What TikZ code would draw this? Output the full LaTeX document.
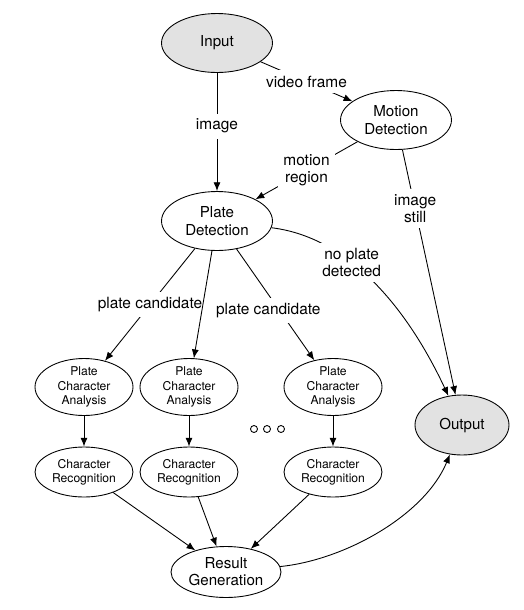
\documentclass[tikz,border=0pt]{standalone}
\usepackage{fontspec}
\setmainfont{TeX Gyre Heros}
\usetikzlibrary{arrows.meta,shapes.geometric}
\definecolor{iogrey}{HTML}{E2E2E2}

\begin{document}
\begin{tikzpicture}[x=0.02cm,y=-0.02cm,
    stage/.style={draw,ellipse,inner sep=0pt,align=center,line width=0.5pt,
        font=\fontsize{8.6}{9.8}\selectfont},
    bigstage/.style={stage,minimum width=2.22cm,minimum height=1.18cm},
    smallstage/.style={stage,minimum width=1.96cm,minimum height=1cm,
        font=\fontsize{6.9}{8.2}\selectfont},
    io/.style={fill=iogrey},
    flow/.style={line width=0.5pt,-{Latex[length=5pt,width=4pt]}},
    lbl/.style={fill=white,inner sep=3pt,align=center,
        font=\fontsize{8.8}{9.8}\selectfont}]

            \useasboundingbox (0,0) rectangle (524,610);

            \node[bigstage,io] (input) at (217,43) {Input};
            \node[bigstage] (motion) at (396,120) {Motion\\Detection};
            \node[bigstage] (plate) at (217,221) {Plate\\Detection};

            \node[smallstage] (pca1) at (84,387) {Plate\\Character\\Analysis};
            \node[smallstage] (pca2) at (189,387) {Plate\\Character\\Analysis};
            \node[smallstage] (pca3) at (333,387) {Plate\\Character\\Analysis};

            \node[smallstage] (cr1) at (84,472) {Character\\Recognition};
            \node[smallstage] (cr2) at (189,472) {Character\\Recognition};
            \node[smallstage] (cr3) at (333,472) {Character\\Recognition};

            \node[stage,io,minimum width=1.88cm,minimum height=1.2cm] (output) at (462,425) {Output};
            \node[stage,minimum width=2.2cm,minimum height=1.02cm] (result) at (226,572) {Result\\Generation};

            \draw[flow] (input) -- node[lbl,pos=0.45] {image} (plate);
            \draw[flow] (input) -- node[lbl] {video frame} (motion);
            \draw[flow] (motion) -- node[lbl] {motion\\region} (plate);
            \draw[flow] (motion) -- node[lbl,pos=0.24] {image\\still} (output);
            \draw[flow] (plate) .. controls (355,238) and (412,318) .. node[lbl,pos=0.36] {no plate\\detected} (output);

            \draw[flow] (plate) -- node[lbl] {plate candidate} (pca1);
            \draw[flow] (plate) -- node[lbl,pos=0.55,xshift=-0.22cm] {plate candidate} (pca3);
            \draw[flow] (plate) -- (pca2);

            \draw[flow] (pca1) -- (cr1);
            \draw[flow] (pca2) -- (cr2);
            \draw[flow] (pca3) -- (cr3);

            \draw[flow] (cr1) -- (result);
            \draw[flow] (cr2) -- (result);
            \draw[flow] (cr3) -- (result);
            \draw[flow] (result) .. controls (345,560) and (425,515) .. (output);

            \foreach \x in {254,267,281}
                \draw[line width=0.5pt] (\x,429) circle (3.5);
        \end{tikzpicture}
\end{document}
